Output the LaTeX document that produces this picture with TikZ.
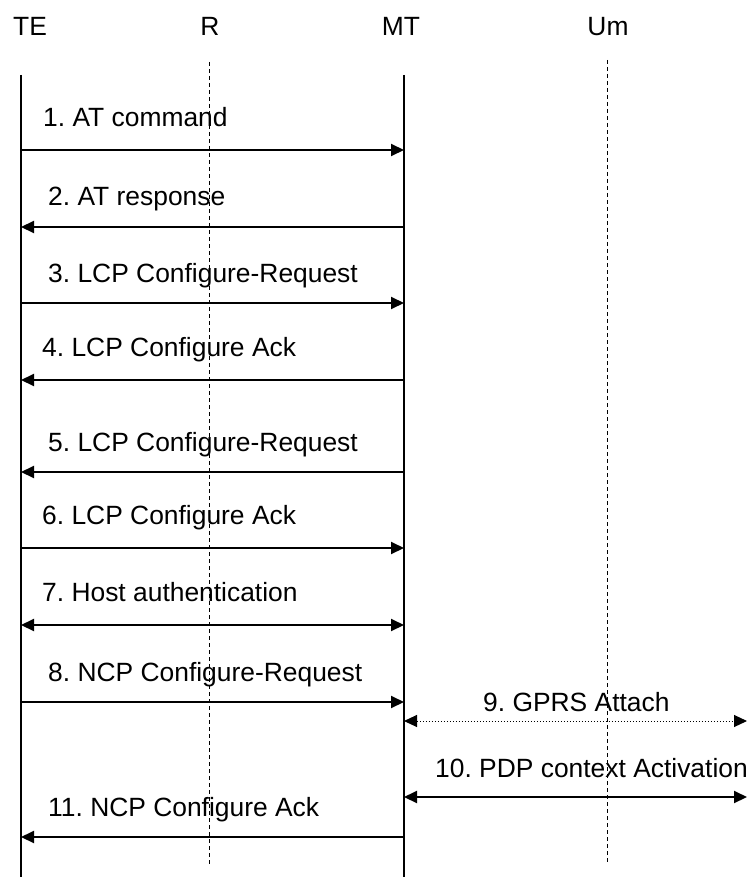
\documentclass[tikz,border=0pt]{standalone}
\usepackage{fontspec}
\setmainfont{Liberation Sans}
\usetikzlibrary{arrows.meta}

\tikzset{
	lifeline/.style = {line width = 2.4pt},
	interface/.style = {line width = 0.9pt, dash pattern = on 4pt off 3pt},
	msg/.style = {line width = 2pt, > = {Triangle[length = 13pt, width = 12pt]}},
	label/.style = {anchor = base west, inner sep = 0pt}
}

\begin{document}
\frenchspacing
\begin{tikzpicture}[x = 1pt, y = -1pt, font = \fontsize{26.4}{30}\selectfont]

	\useasboundingbox (0, 0) rectangle (749, 877);

	% Entity names
	
	\node [anchor = base, inner sep = 0pt] (te) at (30, 36) {TE};
	\node [anchor = base, inner sep = 0pt] (r) at (210, 36) {R};
	\node [anchor = base, inner sep = 0pt] (mt) at (401, 36) {MT};
	\node [anchor = base, inner sep = 0pt] (um) at (608, 36) {Um};

	% Lifelines and reference points
	
	\coordinate (te top) at (21, 75);   \coordinate (te bot) at (21, 877);
	\coordinate (mt top) at (404, 75);  \coordinate (mt bot) at (404, 877);
	\coordinate (r top) at (209, 62);   \coordinate (r bot) at (209, 865);
	\coordinate (um top) at (607, 60);  \coordinate (um bot) at (607, 862);

	\draw [lifeline] (te top) -- (te bot);
	\draw [lifeline] (mt top) -- (mt bot);
	\draw [interface] (r top) -- (r bot);
	\draw [interface] (um top) -- (um bot);

	\foreach \n/\y in {1/150, 2/227, 3/303, 4/380, 5/472, 6/548, 7/625, 8/702, 9/721, 10/797, 11/837} {
		\coordinate (te\n) at (21, \y);
		\coordinate (mt\n) at (404, \y);
		\coordinate (um\n) at (747, \y);
	}

	% Messages between TE and MT
	
	\draw [msg, ->] (te1) -- (mt1);
	\node [label] (l1) at (43, 127) {1. AT command};
	
	\draw [msg, ->] (mt2) -- (te2);
	\node [label] (l2) at (48, 206) {2. AT response};
	
	\draw [msg, ->] (te3) -- (mt3);
	\node [label] (l3) at (48, 282) {3. LCP Configure-Request};
	
	\draw [msg, ->] (mt4) -- (te4);
	\node [label] (l4) at (42, 356) {4. LCP Configure Ack};
	
	\draw [msg, ->] (mt5) -- (te5);
	\node [label] (l5) at (48, 451) {5. LCP Configure-Request};
	
	\draw [msg, ->] (te6) -- (mt6);
	\node [label] (l6) at (42, 524) {6. LCP Configure Ack};
	
	\draw [msg, <->] (te7) -- (mt7);
	\node [label] (l7) at (42, 601) {7. Host authentication};
	
	\draw [msg, ->] (te8) -- (mt8);
	\node [label] (l8) at (48, 681) {8. NCP Configure-Request};

	% Network side
	
	\draw [msg, <->, line width = 1pt, dotted] (mt9) -- (um9);
	\node [label] (l9) at (483, 711) {9. GPRS Attach};
	
	\draw [msg, <->] (mt10) -- (um10);
	\node [label] (l10) at (435, 777) {10. PDP context Activation};
	
	\draw [msg, ->] (mt11) -- (te11);
	\node [label] (l11) at (48, 816) {11. NCP Configure Ack};

\end{tikzpicture}
\end{document}
